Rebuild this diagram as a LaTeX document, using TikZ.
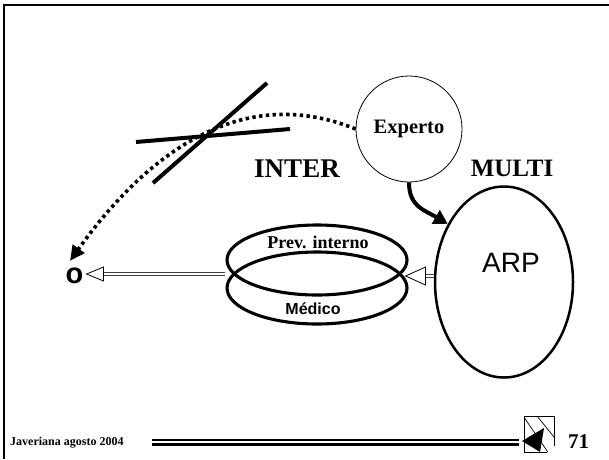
\documentclass[tikz,border=0pt]{standalone}
\usepackage{fontspec}
\setmainfont{Liberation Serif}
\newfontfamily\arialfont{Liberation Sans}
\usetikzlibrary{arrows.meta,shapes.geometric,calc}

\tikzset{
  fsz/.style={font=\fontsize{#1}{#1}\selectfont\bfseries},
  ring/.style={ellipse, draw, line width=3.1pt, minimum width=180pt, inner sep=0pt},
  shaft/.style={double=white, double distance=1.3pt, line width=1.1pt, draw=black!75},
  opentri/.style={draw, fill=white, line width=0.8pt, line join=miter},
  crossbar/.style={line width=4pt},
  dotline/.style={line width=3.6pt, dash pattern=on 3.4pt off 3.4pt},
  label/.style={inner sep=0pt}
}

\begin{document}
\begin{tikzpicture}[x=1pt,y=-1pt]
  \useasboundingbox (0,0) rectangle (609,459);

  % page frame (top and left edges)
  \draw[line width=2.6pt] (4,459) -- (4,5) -- (609,5);

  % nodes
  \node[circle, draw, line width=0.8pt, minimum size=106pt, inner sep=0pt,
        fsz=20.5] (expert) at (409,129) {Experto};
  \node[ellipse, draw, line width=2.5pt, minimum width=138pt,
        minimum height=191pt, inner sep=0pt] (arp) at (504,282) {};
  \node[label, font=\arialfont\fontsize{28}{28}\selectfont] (arplabel) at (511,263) {ARP};

  \node[ring, minimum height=70pt] (prevring) at (317,260) {};
  \node[ring, minimum height=72pt] (medring) at (317,288) {};
  \node[label, fsz=18] (prevlabel) at (318,242) {Prev. interno};
  \node[label, font=\arialfont\bfseries\fontsize{16}{16}\selectfont] (medlabel) at (313,309) {Médico};

  \node[label, font=\arialfont\bfseries\fontsize{29}{29}\selectfont] (onode) at (74.5,276) {o};

  \node[label, fsz=27] (inter) at (297,169) {INTER};
  \node[label, fsz=25] (multi) at (512,168) {MULTI};

  % crossing points of the two rings
  \coordinate (ringL) at ($(prevring.west)!0.5!(medring.west)$);
  \coordinate (ringR) at ($(prevring.east)!0.5!(medring.east)$);

  % crossed-out strokes
  \coordinate (xa1) at (153,183);
  \coordinate (xa2) at (267,83);
  \coordinate (xb1) at (136,142);
  \coordinate (xb2) at (290,129);
  \draw[crossbar] (xa1) -- (xa2);
  \draw[crossbar] (xb1) -- (xb2);

  % dotted arc from Experto to the small o
  \coordinate (otop) at ($(onode.north)+(-4.5,-7)$);
  \draw[dotline, -{Triangle[length=15pt,width=14pt]}]
    (expert.west) .. controls (235,80) and (140,163) .. (otop);

  % thick arrow from Experto to ARP
  \draw[line width=4pt, -{Triangle[length=14pt,width=15pt]}]
    (expert.south) .. controls +(0,24) and +(-24,-14) .. (arp.134);

  % double-line arrow ARP -> rings
  \coordinate (tipR) at ($(ringR)+(-3,2)$);
  \draw[shaft] (arp.west |- tipR) -- ($(tipR)+(19,0)$);
  \draw[opentri] (tipR) -- ++(20,-9) -- ++(0,18) -- cycle;

  % double-line arrow rings -> o
  \coordinate (tipL) at ($(onode.east |- ringL)+(3,0)$);
  \draw[shaft] (ringL) -- ($(tipL)+(16,0)$);
  \draw[opentri] (tipL) -- ++(17,-7) -- ++(0,14) -- cycle;

  % footer
  \node[label, fsz=12, anchor=west] (footer) at (10,442.3) {Javeriana agosto 2004};
  \coordinate (barL) at (152,0);
  \coordinate (barR) at (519,0);
  \draw[line width=2.2pt] (barL |- 0,440.3) -- (barR |- 0,440.3);
  \draw[line width=3.2pt] (barL |- 0,444.6) -- (barR |- 0,444.6);

  % navigation icon
  \draw[line width=0.7pt] (524.5,416) -- (554,416) -- (554,446);
  \draw[line width=0.7pt] (524.5,416) -- (524.5,452.3) -- (547,452.3);
  \draw[line width=0.7pt] (524.5,418) -- (548,452.3);
  \draw[line width=0.7pt] (537,416) -- (554,437);
  \fill (522,441) -- (544,428) -- (540,452) -- cycle;

  \node[label, fsz=21] (pagenum) at (578.5,441.7) {71};
\end{tikzpicture}
\end{document}
